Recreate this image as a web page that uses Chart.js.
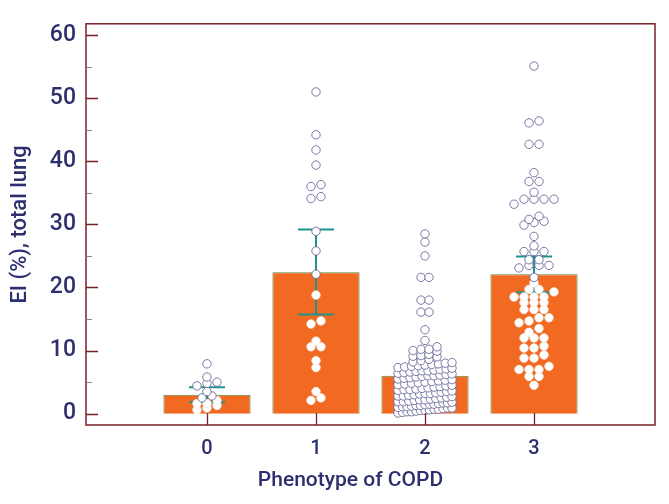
<!DOCTYPE html>
<html>
<head>
<meta charset="utf-8">
<script src="https://cdn.jsdelivr.net/npm/chart.js@4"></script>
<style>
  html, body { margin: 0; padding: 0; background: #fff; }
</style>
</head>
<body>
<canvas id="chart" width="669" height="504"></canvas>
<script>
// Categories and summary values (mean with error bars)
const phenotypes = [0, 1, 2, 3];
const meanEI = [3.0, 22.4, 6.0, 22.1];
const errLow = [1.8, 15.7, 4.7, 19.2];
const errHigh = [4.2, 29.2, 7.1, 24.9];

// Tick labels
const yTicks = [0, 10, 20, 30, 40, 50, 60];
const yMinorTicks = [5, 15, 25, 35, 45, 55];

// Individual subject values per phenotype
const pointsP0 = [7.9, 5.8, 5.0, 4.8, 4.4, 3.5, 2.8, 2.5, 2.1, 1.6, 1.6, 1.3, 0.9, 0.6];
const pointsP1 = [51.0, 44.2, 41.8, 39.4, 36.3, 36.0, 34.4, 34.1, 28.9, 25.8, 22.1, 18.8,
    14.7, 14.2, 11.5, 10.6, 10.6, 8.4, 7.3, 3.5, 2.5, 2.1];
const pointsP2 = [28.5, 27.2, 25.0, 21.6, 21.6, 18.0, 18.0, 16.1, 16.1, 13.3, 11.6,
    10.6, 10.2, 10.2, 10.0, 9.9, 9.4, 9.2, 9.1, 9.0, 8.6, 8.4, 8.2, 8.1, 8.0, 7.9, 7.8,
    7.7, 7.6, 7.5, 7.4, 7.3, 7.2, 7.1, 7.0, 6.9, 6.8, 6.8, 6.7, 6.6, 6.5, 6.4, 6.3, 6.2, 6.1, 6.0, 6.0,
    5.9, 5.8, 5.7, 5.6, 5.5, 5.4, 5.3, 5.2, 5.1, 5.0, 4.9, 4.8, 4.7, 4.6, 4.5, 4.4, 4.3, 4.2, 4.1, 4.0,
    3.9, 3.8, 3.8, 3.7, 3.6, 3.5, 3.4, 3.3, 3.2, 3.2, 3.1, 3.0, 2.9, 2.8, 2.8, 2.7, 2.6, 2.5, 2.4, 2.3, 2.2, 2.2, 2.1, 2.0,
    1.9, 1.9, 1.8, 1.7, 1.7, 1.6, 1.5, 1.5, 1.4, 1.3, 1.3, 1.2, 1.1, 1.1, 1.0, 0.9, 0.9, 0.8, 0.7, 0.7,
    0.6, 0.5, 0.5, 0.4, 0.3, 0.3, 0.2, 0.1];
const pointsP3 = [55.1, 46.4, 46.1, 42.7, 42.7, 38.2, 36.8, 36.8, 35.1, 34.0, 34.0, 34.0, 34.0, 33.2,
    31.3, 30.8, 30.5, 30.3, 29.9, 28.1, 26.6, 25.7, 25.7, 25.7, 24.4, 24.4, 23.5, 23.5, 23.5, 23.1,
    21.6, 20.7, 19.7, 19.7, 19.3, 18.5, 18.5, 18.5, 18.5, 17.6, 17.6, 17.6, 16.5, 16.5, 16.5,
    15.2, 15.2, 14.7, 14.4, 13.5, 12.9, 12.0, 12.0, 12.0, 10.7, 10.4, 10.4, 9.3, 8.8, 8.8,
    7.5, 7.0, 7.0, 7.0, 5.9, 5.9, 4.5];

const ORANGE = '#f26a22';
const BAR_EDGE = '#5c8a4a';
const TEAL = '#1f9290';
const MAROON = '#7a1f28';
const NAVY = '#2d2f6e';
const DOT_EDGE = '#6b6b9c';
const FONT = "Roboto, 'DejaVu Sans Condensed', sans-serif";

// rough pixel size of one x unit, used only to lay out the dots side by side
const PX_X = 109;

// dot rows: values within `gap` of a row's first value share that row, centred on the category
function dotRows(values, center, step, maxW, gap) {
    const rows = [];
    values.slice().sort((a, b) => a - b).forEach(v => {
        const last = rows[rows.length - 1];
        if (last && v - last[0] <= gap) last.push(v);
        else rows.push([v]);
    });
    const out = [];
    rows.forEach(row => {
        const n = row.length;
        const s = n > 1 ? Math.min(step, 2 * maxW / (n - 1)) : 0;
        row.forEach((v, i) => {
            const off = (i - (n - 1) / 2) * s;
            out.push({ x: center + off / PX_X, y: v, g: center });
        });
    });
    return out;
}

const scatterData = [].concat(
    dotRows(pointsP0, 0, 10, 16, 0.85),
    dotRows(pointsP1, 1, 10, 16, 0.85),
    dotRows(pointsP2, 2, 8, 27, 0.85),
    dotRows(pointsP3, 3, 10, 20, 0.85)
);

// error bars drawn right after the bars, under the dots
const errorBarPlugin = {
    id: 'errorBars',
    afterDatasetDraw(chart, args) {
        if (args.index !== 0) return;
        const { ctx, scales: { x, y } } = chart;
        ctx.save();
        ctx.strokeStyle = TEAL;
        ctx.lineWidth = 2;
        phenotypes.forEach((p, i) => {
            const px = x.getPixelForValue(p);
            const lo = y.getPixelForValue(errLow[i]);
            const hi = y.getPixelForValue(errHigh[i]);
            ctx.beginPath();
            ctx.moveTo(px, lo); ctx.lineTo(px, hi);
            ctx.moveTo(px - 18, lo); ctx.lineTo(px + 18, lo);
            ctx.moveTo(px - 18, hi); ctx.lineTo(px + 18, hi);
            ctx.stroke();
        });
        ctx.restore();
    }
};

// box frame with inward ticks, plus the x title (sits a bit left of centre)
const framePlugin = {
    id: 'frame',
    afterDraw(chart) {
        const { ctx, chartArea: a, scales: { x, y } } = chart;
        ctx.save();
        ctx.strokeStyle = MAROON;
        ctx.lineWidth = 1.5;
        ctx.strokeRect(a.left, a.top, a.right - a.left, a.bottom - a.top);
        ctx.lineWidth = 1.3;
        ctx.beginPath();
        yTicks.forEach(v => {
            const py = Math.round(y.getPixelForValue(v)) + 0.5;
            ctx.moveTo(a.left, py); ctx.lineTo(a.left + 12, py);
        });
        phenotypes.forEach(v => {
            const px = Math.round(x.getPixelForValue(v)) + 0.5;
            ctx.moveTo(px, a.bottom); ctx.lineTo(px, a.bottom - 12);
        });
        ctx.stroke();
        ctx.strokeStyle = '#a07a80';
        ctx.lineWidth = 1;
        ctx.beginPath();
        yMinorTicks.forEach(v => {
            const py = Math.round(y.getPixelForValue(v)) + 0.5;
            ctx.moveTo(a.left, py); ctx.lineTo(a.left + 6, py);
        });
        ctx.stroke();

        ctx.fillStyle = NAVY;
        ctx.font = '500 21px ' + FONT;
        ctx.textAlign = 'center';
        ctx.textBaseline = 'middle';
        ctx.fillText('Phenotype of COPD', (a.left + a.right) / 2 - 20, 481);
        ctx.restore();
    }
};

const ctx = document.getElementById('chart').getContext('2d');
new Chart(ctx, {
    type: 'bar',
    data: {
        datasets: [
            {
                type: 'bar',
                data: phenotypes.map((p, i) => ({ x: p, y: meanEI[i] })),
                backgroundColor: ORANGE,
                borderColor: BAR_EDGE,
                borderWidth: 1,
                barPercentage: 0.8,
                categoryPercentage: 1,
                order: 2
            },
            {
                type: 'scatter',
                data: scatterData,
                pointRadius: 4.2,
                pointHoverRadius: 4.2,
                borderWidth: 0.9,
                backgroundColor: '#ffffff',
                pointBorderColor: function(c) {
                    const r = c.raw;
                    if (!r) return DOT_EDGE;
                    if (r.g !== 2 && r.y < meanEI[r.g] - 0.6) return '#f4f0ee';
                    return DOT_EDGE;
                },
                order: 1
            }
        ]
    },
    options: {
        responsive: false,
        animation: false,
        layout: { padding: { top: 11, right: 14, left: 0, bottom: 0 } },
        plugins: { legend: { display: false }, tooltip: { enabled: false } },
        scales: {
            x: {
                type: 'linear',
                min: -1.11,
                max: 4.11,
                offset: false,
                grid: { display: false, drawTicks: false },
                border: { display: false },
                afterBuildTicks: s => { s.ticks = phenotypes.map(v => ({ value: v })); },
                afterFit: s => { s.height = 79; },
                ticks: { color: NAVY, padding: 12, font: { family: FONT, size: 20, weight: 500 } }
            },
            y: {
                min: -1.8,
                max: 61.8,
                grid: { display: false, drawTicks: false },
                border: { display: false },
                afterBuildTicks: s => { s.ticks = yTicks.map(v => ({ value: v })); },
                afterFit: s => { s.width = 86; },
                ticks: { color: NAVY, padding: 10, font: { family: FONT, size: 23, weight: 500 } },
                title: {
                    display: true,
                    text: 'EI (%), total lung',
                    color: NAVY,
                    padding: { top: 7, bottom: 7 },
                    font: { family: FONT, size: 22, weight: 500 }
                }
            }
        }
    },
    plugins: [errorBarPlugin, framePlugin]
});
</script>
</body>
</html>
